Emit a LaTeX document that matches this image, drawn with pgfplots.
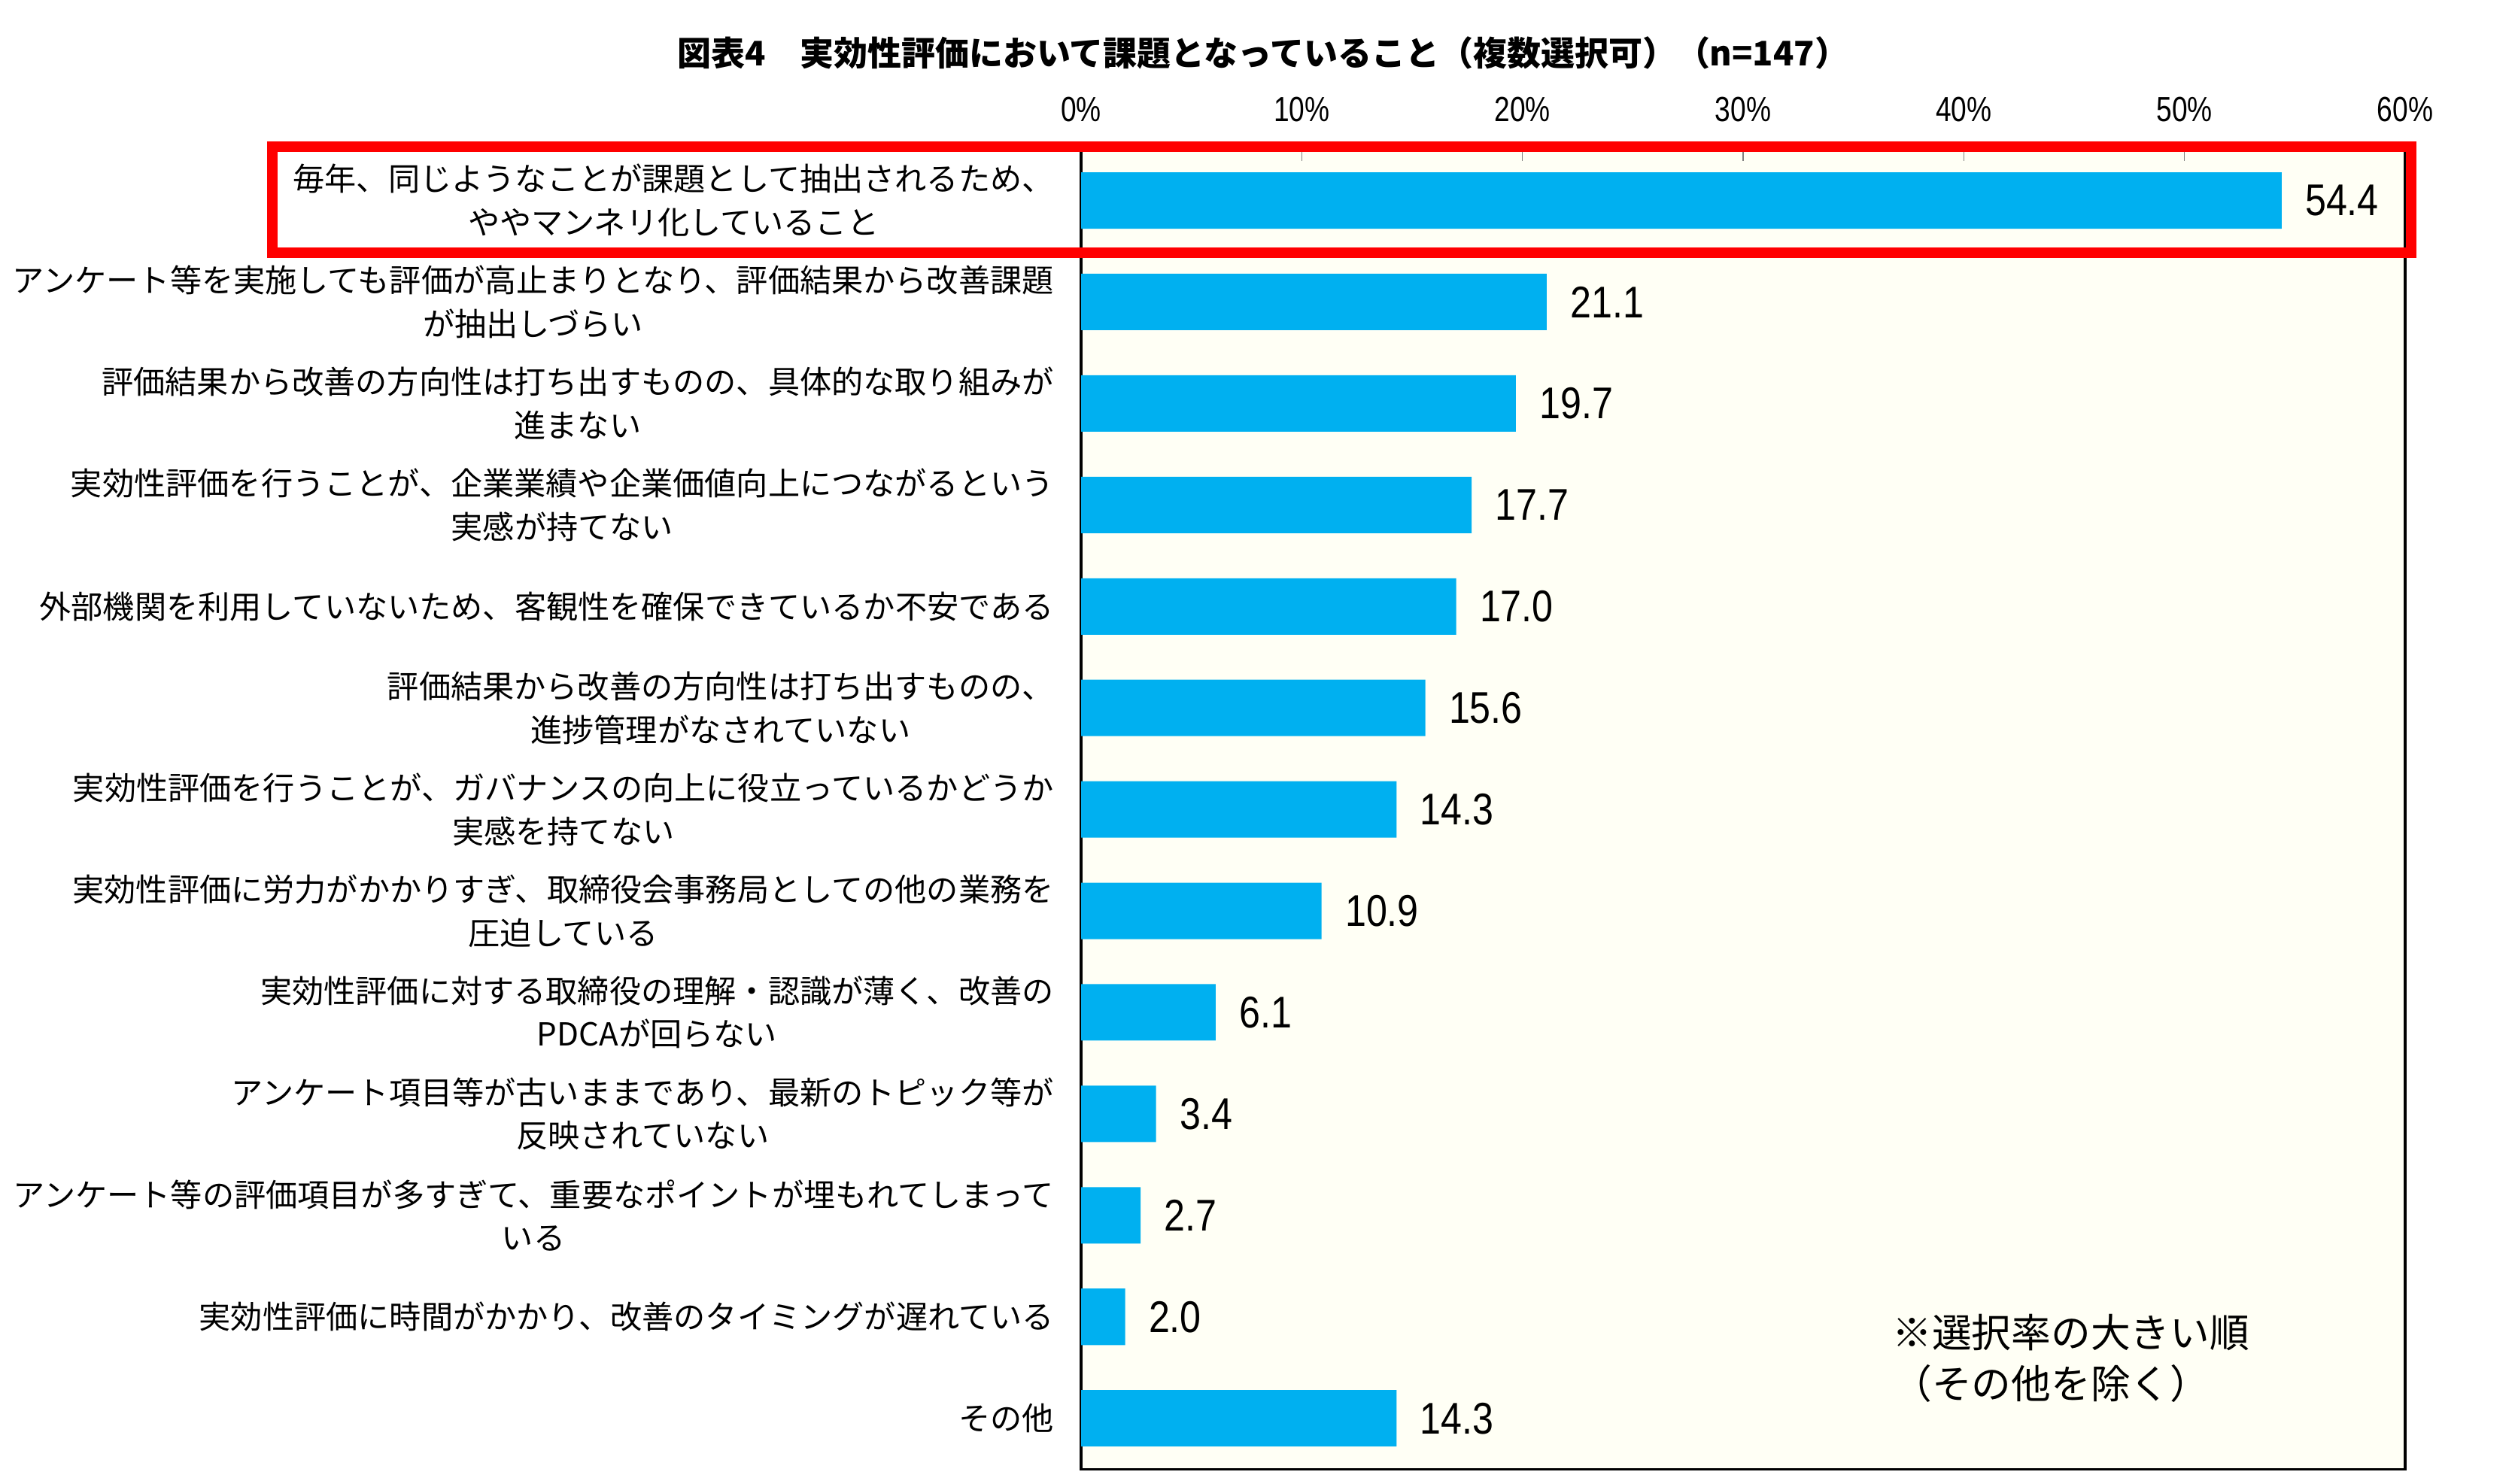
\documentclass[border=0pt]{standalone}
\usepackage{fontspec}
\usepackage{pgfplots}
\pgfplotsset{compat=1.18}
\setmainfont{Noto Sans CJK JP}
\newfontfamily\jpfont{Noto Sans CJK JP}
\newfontfamily\numfont[FakeStretch=0.85]{Liberation Sans}
\newfontfamily\tickfont[FakeStretch=0.8]{Liberation Sans}
\definecolor{barblue}{HTML}{00B0F0}
\definecolor{plotbg}{HTML}{FFFFF5}
\definecolor{boxred}{HTML}{FF0000}

\begin{document}
\begin{tikzpicture}
\begin{axis}[
    scale only axis,
    width=8.8cm,
    height=8.77cm,
    xbar,
    bar width=0.375cm,
    y dir=reverse,
    xmin=0, xmax=60,
    ymin=-0.5, ymax=12.5,
    xtick={0,10,...,60},
    xticklabels={0\%,10\%,20\%,30\%,40\%,50\%,60\%},
    xticklabel pos=upper,
    xtick pos=upper,
    tick align=inside,
    major tick length=0.075cm,
    xticklabel style={font=\tickfont\fontsize{6.6}{8}\selectfont, yshift=0.06cm},
    ytick={0,...,12},
    ytick style={draw=none},
    yticklabels={
        {毎年、同じようなことが課題として抽出されるため、\\ややマンネリ化していること},
        {アンケート等を実施しても評価が高止まりとなり、評価結果から改善課題\\が抽出しづらい},
        {評価結果から改善の方向性は打ち出すものの、具体的な取り組みが\\進まない},
        {実効性評価を行うことが、企業業績や企業価値向上につながるという\\実感が持てない},
        {外部機関を利用していないため、客観性を確保できているか不安である},
        {評価結果から改善の方向性は打ち出すものの、\\進捗管理がなされていない},
        {実効性評価を行うことが、ガバナンスの向上に役立っているかどうか\\実感を持てない},
        {実効性評価に労力がかかりすぎ、取締役会事務局としての他の業務を\\圧迫している},
        {実効性評価に対する取締役の理解・認識が薄く、改善の\\PDCAが回らない},
        {アンケート項目等が古いままであり、最新のトピック等が\\反映されていない},
        {アンケート等の評価項目が多すぎて、重要なポイントが埋もれてしまって\\いる},
        {実効性評価に時間がかかり、改善のタイミングが遅れている},
        {その他}
    },
    yticklabel style={font=\jpfont\fontsize{6}{8.2}\selectfont, align=center, inner sep=0pt, xshift=-0.175cm},
    axis line style={line width=0.45pt},
    axis background/.style={fill=plotbg},
    nodes near coords={\pgfmathprintnumber[fixed,fixed zerofill,precision=1,assume math mode=true]{\pgfplotspointmeta}},
    nodes near coords style={font=\numfont\fontsize{8.4}{10}\selectfont, anchor=west, inner sep=0pt, xshift=0.15cm, text=black},
    clip=false,
]
\addplot[fill=barblue, draw=none] coordinates {
    (54.4,0) (21.1,1) (19.7,2) (17.7,3) (17.0,4) (15.6,5) (14.3,6)
    (10.9,7) (6.1,8) (3.4,9) (2.7,10) (2.0,11) (14.3,12)
};
% highlight box round the first item
\draw[boxred, line width=0.07cm] (rel axis cs:-0.611,0.9219) rectangle (rel axis cs:1.0045,1.0023);
% note
\node[anchor=west, align=left, inner sep=0pt, font=\jpfont\fontsize{7.5}{9.6}\selectfont]
    at (rel axis cs:0.612,0.084) {※選択率の大きい順\\（その他を除く）};
% title
\node[font=\jpfont\bfseries\fontsize{6.4}{8}\selectfont, inner sep=0pt]
    at (rel axis cs:0.1375,1.0735) {図表4\quad 実効性評価において課題となっていること（複数選択可）（n=147）};
% page frame
\path (rel axis cs:-0.8165,-0.0108) rectangle (rel axis cs:1.0852,1.1135);
\end{axis}
\end{tikzpicture}
\end{document}
